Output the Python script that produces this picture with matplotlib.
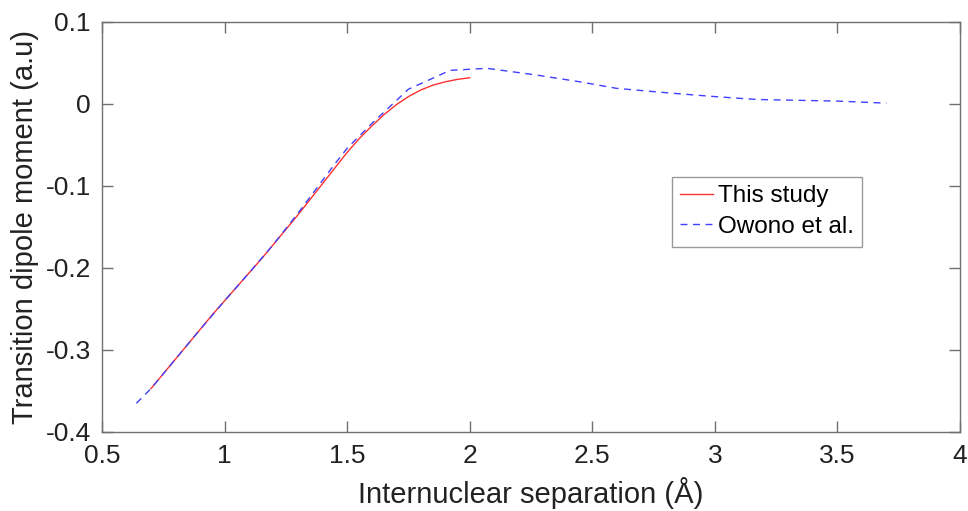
import numpy as np
import matplotlib
matplotlib.use("Agg")
import matplotlib.pyplot as plt

plt.rcParams['font.family'] = ['Liberation Sans', 'DejaVu Sans']

# This study (red, solid)
study_x = [0.70, 0.75, 0.80, 0.85, 0.90, 0.95, 1.00, 1.05, 1.10, 1.15, 1.20,
           1.25, 1.30, 1.35, 1.40, 1.45, 1.50, 1.55, 1.60, 1.65, 1.70, 1.75,
           1.80, 1.85, 1.90, 1.95, 2.00]
study_y = [-0.347, -0.329, -0.311, -0.293, -0.275, -0.257, -0.240, -0.223,
           -0.206, -0.189, -0.171, -0.153, -0.135, -0.116, -0.097, -0.078,
           -0.059, -0.042, -0.027, -0.013, -0.001, 0.009, 0.017, 0.023,
           0.027, 0.030, 0.032]

# Owono et al. (blue, dashed)
owono_x = [0.64, 0.70, 0.80, 0.90, 1.00, 1.10, 1.20, 1.25, 1.30, 1.35, 1.40,
           1.45, 1.50, 1.60, 1.75, 1.92, 2.07, 2.27, 2.45, 2.60, 2.83, 3.00,
           3.17, 3.50, 3.70]
owono_y = [-0.365, -0.347, -0.311, -0.275, -0.240, -0.206, -0.171, -0.152,
           -0.133, -0.113, -0.093, -0.073, -0.054, -0.024, 0.018, 0.041,
           0.0435, 0.0354, 0.027, 0.019, 0.013, 0.009, 0.0055, 0.0035, 0.001]

xticks = [0.5, 1, 1.5, 2, 2.5, 3, 3.5, 4]
yticks = [-0.4, -0.3, -0.2, -0.1, 0, 0.1]

fig = plt.figure(figsize=(9.68, 5.11), dpi=100)
ax = fig.add_axes([0.1054, 0.1546, 0.8863, 0.8024])

ax.plot(study_x, study_y, color='#ff3030', lw=1.0, label='This study')
ax.plot(owono_x, owono_y, color='#4040ff', lw=1.0, ls=(0, (5, 4)), label='Owono et al.')

ax.set_xlim(0.5, 4)
ax.set_ylim(-0.4, 0.1)
ax.set_xticks(xticks)
ax.set_xticklabels([f"{t:g}" for t in xticks])
ax.set_yticks(yticks)
ax.set_yticklabels([f"{t:g}" for t in yticks])

axis_col = '#707070'
for s in ax.spines.values():
    s.set_color(axis_col)
    s.set_linewidth(1.0)
ax.tick_params(direction='in', length=8, width=1.0, color=axis_col,
               top=True, right=True, labelsize=19, labelcolor='#222222')
ax.tick_params(axis='x', pad=9)
ax.tick_params(axis='y', pad=8)

ax.set_xlabel('Internuclear separation (Å)', fontsize=21, color='#222222', labelpad=6)
ax.set_ylabel('Transition dipole moment (a.u)', fontsize=21, color='#222222', labelpad=5)

leg = ax.legend(loc='upper left', bbox_to_anchor=(0.664, 0.622), fontsize=17.5,
                frameon=True, fancybox=False, handlelength=1.35, handletextpad=0.2,
                borderpad=0.35, labelspacing=0.35, borderaxespad=0)
leg.get_frame().set_edgecolor('#808080')
leg.get_frame().set_linewidth(1.0)

fig.savefig('out.png', dpi=100)
